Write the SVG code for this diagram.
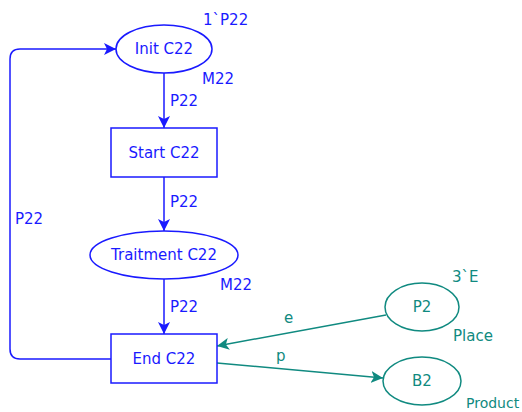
<svg xmlns="http://www.w3.org/2000/svg" width="522" height="412" viewBox="0 0 522 412">
<defs>
<marker id="ab" viewBox="0 0 12 12" refX="12" refY="6" markerWidth="12" markerHeight="12" markerUnits="userSpaceOnUse" orient="auto"><path d="M0,0 L12,6 L0,12 L3,6 Z" fill="#1a1aff"/></marker>
<marker id="at" viewBox="0 0 12 12" refX="12" refY="6" markerWidth="12" markerHeight="12" markerUnits="userSpaceOnUse" orient="auto"><path d="M0,0 L12,6 L0,12 L3,6 Z" fill="#108a80"/></marker>
</defs>
<style>
text{font-family:"DejaVu Sans",Verdana,sans-serif;font-size:15px}
.b{fill:#1a1aff}.t{fill:#108a80}
.bs{fill:#fff;stroke:#1a1aff;stroke-width:1.5}
.ts{fill:#fff;stroke:#108a80;stroke-width:1.5}
.bl{fill:none;stroke:#1a1aff;stroke-width:1.5}
.tl{fill:none;stroke:#108a80;stroke-width:1.5}
.m{text-anchor:middle}
</style>
<rect width="522" height="412" fill="#fff"/>
<g id="connectors">
<path class="bl" d="M164,73 V128" marker-end="url(#ab)"/>
<text class="b" x="170" y="106">P22</text>
<path class="bl" d="M164,177 V231" marker-end="url(#ab)"/>
<text class="b" x="170" y="207">P22</text>
<path class="bl" d="M164,279 V334" marker-end="url(#ab)"/>
<text class="b" x="170" y="312">P22</text>
<path class="bl" d="M111,359 H20 Q10,359 10,349 V59 Q10,49 20,49 H116" marker-end="url(#ab)"/>
<text class="b" x="15" y="224">P22</text>
<path class="tl" d="M386,315 L217,346" marker-end="url(#at)"/>
<text class="t" x="284" y="323">e</text>
<path class="tl" d="M217,363 L383,378" marker-end="url(#at)"/>
<text class="t" x="276" y="361">p</text>
</g>
<g id="init">
<ellipse class="bs" cx="164" cy="49" rx="48" ry="24"/>
<text class="b m" x="164" y="54">Init C22</text>
<text class="b" x="203" y="25">1`P22</text>
<text class="b" x="202" y="84">M22</text>
</g>
<g id="start">
<rect class="bs" x="111" y="128" width="106" height="49"/>
<text class="b m" x="164" y="158">Start C22</text>
</g>
<g id="traitment">
<ellipse class="bs" cx="164" cy="255" rx="74" ry="24"/>
<text class="b m" x="164" y="260">Traitment C22</text>
<text class="b" x="220" y="290">M22</text>
</g>
<g id="end">
<rect class="bs" x="111" y="334" width="106" height="49"/>
<text class="b m" x="164" y="364">End C22</text>
</g>
<g id="p2">
<ellipse class="ts" cx="422" cy="307" rx="37" ry="24"/>
<text class="t m" x="422" y="312">P2</text>
<text class="t" x="452" y="282">3`E</text>
<text class="t" x="453" y="341">Place</text>
</g>
<g id="b2">
<ellipse class="ts" cx="422" cy="381" rx="39" ry="24"/>
<text class="t m" x="422" y="386">B2</text>
<text class="t" x="466" y="408" style="font-size:14px">Product</text>
</g>
</svg>
